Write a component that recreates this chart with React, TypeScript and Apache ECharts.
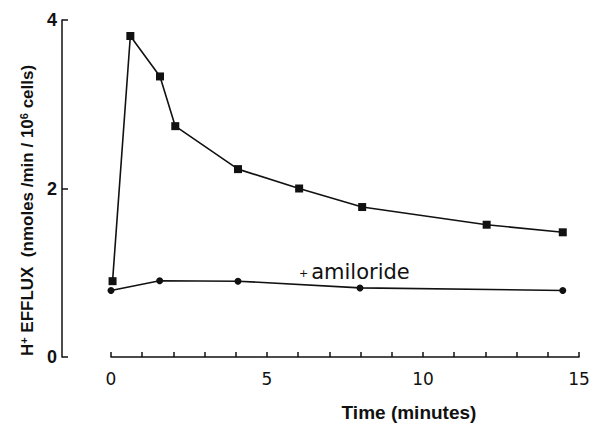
import React, { useEffect, useRef } from "react";
import * as echarts from "echarts";

const controlTime = [0.05, 0.62, 1.57, 2.06, 4.07, 6.03, 8.05, 12.04, 14.48];
const controlEfflux = [0.9, 3.81, 3.33, 2.74, 2.23, 2.0, 1.78, 1.57, 1.48];
const amilorideTime = [0, 1.56, 4.07, 7.98, 14.48];
const amilorideEfflux = [0.79, 0.905, 0.9, 0.82, 0.79];
const xTickLabels = ["0", "5", "10", "15"];
const yTickLabels = ["0", "2", "4"];

export default function App() {
  const ref = useRef<HTMLDivElement>(null);
  useEffect(() => {
    if (!ref.current) return;
    const chart = echarts.init(ref.current, null, { renderer: "svg" });
    const ink = "#111";
    const narrow = "'Liberation Sans Narrow', 'Liberation Sans', sans-serif";
    const wide = "'Liberation Sans', sans-serif";
    chart.setOption({
      animation: false,
      backgroundColor: "#fff",
      grid: { left: 111, right: 22, top: 20, bottom: 61, containLabel: false },
      xAxis: {
        type: "value",
        min: 0,
        max: 15,
        interval: 1,
        name: "Time (minutes)",
        nameLocation: "middle",
        nameGap: 46,
        nameTextStyle: {
          color: ink,
          fontFamily: narrow,
          fontWeight: "bold",
          fontSize: 19,
          padding: [0, 0, 0, 128],
        },
        axisLine: { show: true, onZero: false, lineStyle: { color: ink, width: 1.5 } },
        axisTick: { show: true, inside: true, length: 5, lineStyle: { color: ink, width: 1.5 } },
        splitLine: { show: false },
        axisLabel: {
          color: ink,
          fontFamily: "'DejaVu Sans', sans-serif",
          fontSize: 17,
          margin: 13,
          formatter: (v: number) => (xTickLabels.includes(String(v)) ? String(v) : ""),
        },
      },
      yAxis: {
        type: "value",
        min: 0,
        max: 4,
        interval: 2,
        offset: 49,
        name: "H{sup|+} EFFLUX  (nmoles /min / 10{sup|6} cells)",
        nameLocation: "middle",
        nameGap: 20,
        nameTextStyle: {
          color: ink,
          fontFamily: wide,
          fontWeight: "bold",
          fontSize: 17,
          padding: [0, 44, 0, 0],
          rich: {
            sup: {
              fontFamily: wide,
              fontWeight: "bold",
              fontSize: 11,
              verticalAlign: "top",
              color: ink,
              padding: [0, 0, 8, 0],
            },
          },
        },
        axisLine: { show: true, onZero: false, lineStyle: { color: ink, width: 1.5 } },
        axisTick: { show: true, inside: true, length: 6, lineStyle: { color: ink, width: 1.5 } },
        splitLine: { show: false },
        axisLabel: {
          color: ink,
          fontFamily: narrow,
          fontWeight: "bold",
          fontSize: 18,
          margin: 5,
          formatter: (v: number) => (yTickLabels.includes(String(v)) ? String(v) : ""),
        },
      },
      graphic: [
        {
          type: "text",
          left: 299,
          top: 261,
          style: {
            text: "{p|+}{t|amiloride}",
            rich: {
              p: { fontFamily: "'DejaVu Sans', sans-serif", fontSize: 11, fill: ink, padding: [4, 3, 0, 0] },
              t: { fontFamily: "'DejaVu Sans', sans-serif", fontSize: 21, fill: ink },
            },
          },
        },
      ],
      series: [
        {
          type: "line",
          name: "control",
          data: controlTime.map((t, i) => [t, controlEfflux[i]]),
          symbol: "rect",
          symbolSize: 8,
          lineStyle: { color: ink, width: 1.6 },
          itemStyle: { color: ink },
        },
        {
          type: "line",
          name: "+ amiloride",
          data: amilorideTime.map((t, i) => [t, amilorideEfflux[i]]),
          symbol: "circle",
          symbolSize: 7,
          lineStyle: { color: ink, width: 1.6 },
          itemStyle: { color: ink },
        },
      ],
    });
    return () => chart.dispose();
  }, []);
  return <div ref={ref} style={{ width: 601, height: 427, position: "absolute", left: 0, top: 0 }} />;
}
